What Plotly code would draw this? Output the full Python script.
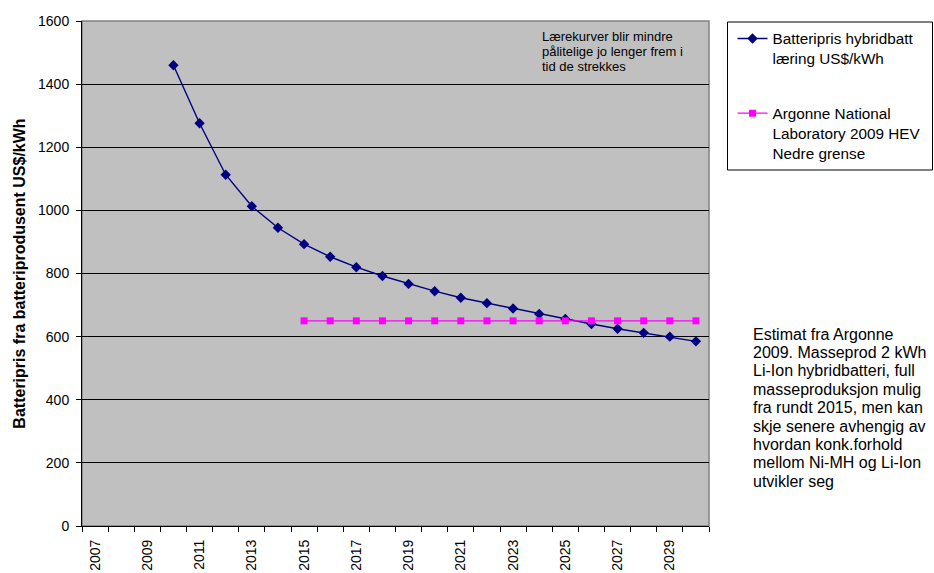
import plotly.graph_objects as go

# Years on the category axis
years = [str(y) for y in range(2007, 2031)]
tick_labels = [y if int(y) % 2 == 1 else "" for y in years]

# Learning-curve battery price (US$/kWh)
learn_years = [str(y) for y in range(2010, 2031)]
learn_price = [1460, 1276, 1113, 1013, 945, 893, 853, 820, 792, 767, 744,
               723, 706, 689, 672, 656, 640, 625, 612, 600, 585]

# Argonne National Laboratory 2009 HEV lower bound
argonne_years = [str(y) for y in range(2015, 2031)]
argonne_price = [650] * len(argonne_years)

y_ticks = list(range(0, 1601, 200))

note_top = ["Lærekurver blir mindre", "pålitelige jo lenger frem i", "tid de strekkes"]
note_right = ["Estimat fra Argonne", "2009. Masseprod 2 kWh", "Li-Ion hybridbatteri, full",
              "masseproduksjon mulig", "fra rundt 2015, men kan", "skje senere avhengig av",
              "hvordan konk.forhold", "mellom Ni-MH og Li-Ion", "utvikler seg"]

FONT = "Liberation Sans, Arial, sans-serif"
W, H = 934, 573
L, R, T, B = 82, 225, 21, 47
PW, PH = W - L - R, H - T - B


def px_x(x):
    return (x - L) / PW


def px_y(y):
    return (H - B - y) / PH


fig = go.Figure()
fig.add_trace(go.Scatter(
    x=learn_years, y=learn_price, mode="lines+markers",
    name="Batteripris hybridbatt<br>læring US$/kWh",
    line=dict(color="#000080", width=1.4),
    marker=dict(symbol="diamond", size=8, color="#000080"),
    legendgroup="a",
))
fig.add_trace(go.Scatter(
    x=argonne_years, y=argonne_price, mode="lines+markers",
    name="Argonne National<br>Laboratory 2009 HEV<br>Nedre grense",
    line=dict(color="#FF00FF", width=1.3),
    marker=dict(symbol="square", size=7, color="#FF00FF"),
    legendgroup="b",
))


def text_lines(lines, x, y0, pitch, size):
    out = []
    for i, s in enumerate(lines):
        out.append(dict(text=s, xref="paper", yref="paper",
                        x=px_x(x), y=px_y(y0 + i * pitch),
                        xanchor="left", yanchor="middle", align="left",
                        showarrow=False, font=dict(size=size)))
    return out


annotations = text_lines(note_top, 540, 36, 15.3, 13) + \
    text_lines(note_right, 751, 334, 18.4, 16)

fig.update_layout(
    width=W, height=H,
    margin=dict(l=L, r=R, t=T, b=B, autoexpand=False),
    paper_bgcolor="white",
    plot_bgcolor="#C0C0C0",
    font=dict(family=FONT, size=14, color="black"),
    showlegend=True,
    legend=dict(
        x=px_x(732.5), y=px_y(22), xanchor="left", yanchor="top",
        borderwidth=0, bgcolor="rgba(0,0,0,0)", valign="top",
        font=dict(size=15.3), tracegroupgap=32, itemwidth=30,
    ),
    xaxis=dict(
        type="category", categoryorder="array", categoryarray=years,
        range=[-0.5, len(years) - 0.5], automargin=False,
        tickmode="array", tickvals=years, ticktext=tick_labels,
        tickangle=-90, tickson="boundaries", ticks="outside", ticklen=5,
        tickcolor="black", showline=True, linecolor="black", linewidth=1,
        showgrid=False, tickfont=dict(size=14), ticklabelstandoff=7,
    ),
    yaxis=dict(
        range=[0, 1600], tickmode="array", tickvals=y_ticks, automargin=False,
        ticks="outside", ticklen=5, tickcolor="black",
        showline=True, linecolor="black", linewidth=1,
        showgrid=True, gridcolor="black", gridwidth=1, zeroline=False,
        title=dict(text="<b>Batteripris fra batteriprodusent US$/kWh</b>",
                   font=dict(size=16), standoff=8),
        tickfont=dict(size=14), ticklabelstandoff=4,
    ),
    shapes=[
        dict(type="rect", xref="x domain", yref="y domain",
             x0=0, x1=1, y0=0, y1=1, line=dict(color="#808080", width=1.5),
             layer="below"),
        dict(type="rect", xref="paper", yref="paper",
             x0=px_x(727.5), x1=px_x(932.5), y0=px_y(170), y1=px_y(22),
             line=dict(color="black", width=1)),
    ],
    annotations=annotations,
)

fig.write_html("out.html")
